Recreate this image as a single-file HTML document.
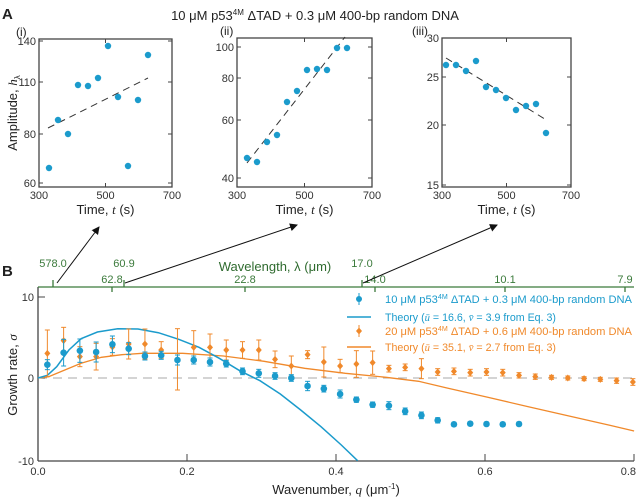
<!DOCTYPE html>
<html><head><meta charset="utf-8"><style>
html,body{margin:0;padding:0;background:#fff;}
svg{display:block;font-family:"Liberation Sans",sans-serif;}
</style></head><body>
<svg id="s" width="636" height="499" viewBox="0 0 636 499" xmlns="http://www.w3.org/2000/svg">
<defs><marker id="ar" markerWidth="8" markerHeight="8" refX="7" refY="4" orient="auto" markerUnits="userSpaceOnUse"><path d="M0,0 L8,4 L0,8 z" fill="#111"/></marker></defs>
<text x="2" y="19" font-size="15" font-weight="bold" fill="#222">A</text>
<text x="315" y="20" font-size="13" text-anchor="middle" fill="#222">10 μM p53<tspan font-size="8" dy="-5">4M</tspan><tspan dy="5"> ΔTAD + 0.3 μM 400-bp random DNA</tspan></text>
<text x="16" y="36" font-size="12" fill="#222">(i)</text>
<text x="220" y="35" font-size="12" fill="#222">(ii)</text>
<text x="412" y="35" font-size="12" fill="#222">(iii)</text>
<text transform="translate(17,113) rotate(-90)" font-size="13" text-anchor="middle" fill="#222">Amplitude, <tspan font-family="Liberation Serif" font-style="italic">h</tspan><tspan font-size="8" dy="3">λ</tspan></text>
<g id="A"></g>
<text x="2" y="276" font-size="15" font-weight="bold" fill="#222">B</text>
<text transform="translate(17,375) rotate(-90)" font-size="13" text-anchor="middle" fill="#222">Growth rate, <tspan font-family="Liberation Serif" font-style="italic">σ</tspan></text>
<text x="275" y="271" font-size="13" text-anchor="middle" fill="#2f6b2f">Wavelength, λ (μm)</text>
<text x="336" y="494" font-size="13" text-anchor="middle" fill="#222">Wavenumber, <tspan font-family="Liberation Serif" font-style="italic">q</tspan> (μm<tspan font-size="8" dy="-5">-1</tspan><tspan dy="5">)</tspan></text>
<g id="B"></g>
<line x1="57" y1="283" x2="99" y2="227" stroke="#111" stroke-width="1" marker-end="url(#ar)"/>
<line x1="125" y1="283" x2="297" y2="225" stroke="#111" stroke-width="1" marker-end="url(#ar)"/>
<line x1="363" y1="283" x2="497" y2="225" stroke="#111" stroke-width="1" marker-end="url(#ar)"/>
</svg>
<script>
const NS="http://www.w3.org/2000/svg";
function el(p,t,a,txt){const e=document.createElementNS(NS,t);for(const k in a)e.setAttribute(k,a[k]);if(txt!=null)e.textContent=txt;p.appendChild(e);return e;}
const A=document.getElementById("A"),B=document.getElementById("B");
const BL="#1b9bcc",OR="#f0892b",GR="#3b7a3b";
const panels=[
 {l:39,r:172,t:39,b:187,yt:[[140,41],[110,82],[80,134],[60,183]],
  pts:[[49,168],[58,120],[68,134],[78,85],[88,86],[98,78],[108,46],[118,97],[128,166],[138,100],[148,55]],dl:[48,128,148,78]},
 {l:237,r:372,t:38,b:187,yt:[[100,47],[80,78],[60,120],[40,178]],
  pts:[[247,158],[257,162],[267,142],[277,135],[287,102],[297,91],[307,70],[317,69],[327,70],[337,48],[347,48]],dl:[247,163,345,37]},
 {l:442,r:571,t:38,b:187,yt:[[30,38],[25,77],[20,125],[15,185]],
  pts:[[446,65],[456,65],[466,71],[476,61],[486,87],[496,90],[506,98],[516,110],[526,106],[536,104],[546,133]],dl:[446,58,548,121]}
];
panels.forEach(p=>{
 el(A,"rect",{x:p.l,y:p.t,width:p.r-p.l,height:p.b-p.t,fill:"none",stroke:"#444","stroke-width":1.3});
 p.yt.forEach(([v,y])=>{el(A,"line",{x1:p.l,y1:y,x2:p.l+4,y2:y,stroke:"#444"});el(A,"line",{x1:p.r,y1:y,x2:p.r-4,y2:y,stroke:"#444"});
  el(A,"text",{x:p.l-3,y:y+4,"font-size":11,"text-anchor":"end",fill:"#333"},v);});
 const w=p.r-p.l;
 [[300,0],[500,.5],[700,1]].forEach(([v,f])=>{const x=p.l+f*w;
  el(A,"line",{x1:x,y1:p.b,x2:x,y2:p.b-4,stroke:"#444"});el(A,"line",{x1:x,y1:p.t,x2:x,y2:p.t+4,stroke:"#444"});
  el(A,"text",{x:x,y:p.b+12,"font-size":11,"text-anchor":"middle",fill:"#333"},v);});
 const tt=el(A,"text",{x:p.l+w/2,y:p.b+27,"font-size":13,"text-anchor":"middle",fill:"#222"},"Time, ");
 el(tt,"tspan",{"font-family":"Liberation Serif","font-style":"italic"},"t");el(tt,"tspan",{}," (s)");
 el(A,"line",{x1:p.dl[0],y1:p.dl[1],x2:p.dl[2],y2:p.dl[3],stroke:"#333","stroke-dasharray":"7,5","stroke-width":1});
 p.pts.forEach(([x,y])=>el(A,"circle",{cx:x,cy:y,r:3.2,fill:BL}));
});
const L=38,R=634,T=287,Bt=461;
const X=zx=>38+(zx-94)*0.4066, Y=zy=>250+zy/3;
el(B,"line",{x1:L,y1:378,x2:R,y2:378,stroke:"#aaa","stroke-dasharray":"9,6","stroke-width":1});
el(B,"line",{x1:L,y1:T,x2:L,y2:Bt,stroke:"#444","stroke-width":1.3});
el(B,"line",{x1:L,y1:Bt,x2:R,y2:Bt,stroke:"#444","stroke-width":1.3});
el(B,"line",{x1:L,y1:T,x2:R,y2:T,stroke:GR,"stroke-width":1.3});
[[10,297],[0,378],[-10,461]].forEach(([v,y])=>{el(B,"line",{x1:L,y1:y,x2:L+7,y2:y,stroke:"#444"});el(B,"text",{x:L-4,y:y+4,"font-size":11,"text-anchor":"end",fill:"#333"},v);});
[["0.0",0],["0.2",.2],["0.4",.4],["0.6",.6],["0.8",.8]].forEach(([t,q])=>{const x=L+q*745;
 el(B,"line",{x1:x,y1:Bt,x2:x,y2:Bt-7,stroke:"#444"});
 el(B,"text",{x:q==.8?636:x,y:Bt+14,"font-size":11,"text-anchor":q==.8?"end":"middle",fill:"#333"},t);});
[["578.0",53,1],["60.9",124,1],["17.0",362,1],["62.8",112,0],["22.8",245,0],["14.0",375,0],["10.1",505,0],["7.9",625,0]].forEach(([t,x,lg])=>{
 if(lg){el(B,"line",{x1:x,y1:T,x2:x,y2:T-7,stroke:GR,"stroke-width":1.3});el(B,"text",{x:x,y:T-20,"font-size":11,"text-anchor":"middle",fill:GR},t);}
 else{el(B,"line",{x1:x,y1:T,x2:x,y2:T+5,stroke:GR,"stroke-width":1.3});el(B,"text",{x:x,y:T-4,"font-size":11,"text-anchor":"middle",fill:GR},t);}
});
const bc=[[94,384],[117,376],[140,350],[170,300],[200,266],[240,246],[290,236],[340,237],[390,248],[440,268],[490,292],[540,325],[590,362],[640,392],[690,432],[740,480],[790,530],[840,585],[880,632]];
const oc=[[94,384],[120,380],[160,360],[200,340],[250,322],[300,314],[350,310],[450,310],[550,318],[650,334],[750,355],[850,370],[950,382],[1030,394],[1100,414],[1200,442],[1300,470],[1400,498],[1500,526],[1560,543]];
const pl=a=>a.map(([x,y])=>X(x).toFixed(1)+","+Y(y).toFixed(1)).join(" ");
el(B,"polyline",{points:pl(oc),fill:"none",stroke:OR,"stroke-width":1.3});
el(B,"polyline",{points:pl(bc),fill:"none",stroke:BL,"stroke-width":1.5});
const bz=[344,308,302,306,283,296,318,316,330,330,336,341,364,370,378,384,408,416,432,449,464,467,484,496,511,523,521,522,523,522];
const be=[15,40,35,30,25,18,12,12,15,12,12,10,10,12,10,10,14,10,12,8,8,12,10,10,8,6,6,6,6,6];
const oz=[310,272,320,320,291,282,282,300,328,292,292,300,300,300,328,348,314,336,348,342,338,356,352,356,366,364,368,366,368,376,380,382,384,386,388,392,396];
const oe=[70,40,30,40,25,45,45,25,92,50,40,30,25,30,25,30,12,45,20,40,35,10,10,30,10,10,10,10,10,8,8,6,6,6,6,8,10];
function pts(z,e,c,off,shape){z.forEach((zy,i)=>{const x=X(117+40*i)+off,y=Y(zy),h=e[i]/3;
 el(B,"line",{x1:x,y1:y-h,x2:x,y2:y+h,stroke:c,"stroke-width":1});
 el(B,"line",{x1:x-2.5,y1:y-h,x2:x+2.5,y2:y-h,stroke:c,"stroke-width":1});
 el(B,"line",{x1:x-2.5,y1:y+h,x2:x+2.5,y2:y+h,stroke:c,"stroke-width":1});
 if(shape)el(B,"circle",{cx:x,cy:y,r:3.3,fill:c});else el(B,"path",{d:`M${x},${y-3.5}L${x+3},${y}L${x},${y+3.5}L${x-3},${y}z`,fill:c});});}
pts(oz,oe,OR,0,0);
pts(bz,be,BL,0,1);
const lg=(y,c,kind,html,len)=>{
 if(kind==="m"){el(B,"line",{x1:359,y1:y-6,x2:359,y2:y+6,stroke:c});el(B,"circle",{cx:359,cy:y,r:3,fill:c});}
 else if(kind==="d"){el(B,"line",{x1:359,y1:y-6,x2:359,y2:y+6,stroke:c});el(B,"path",{d:`M359,${y-3.5}L362,${y}L359,${y+3.5}L356,${y}z`,fill:c});}
 else el(B,"line",{x1:347,y1:y,x2:371,y2:y,stroke:c,"stroke-width":1.4});
 const t=el(B,"text",{x:385,y:y+4,"font-size":11,fill:c,textLength:len,lengthAdjust:"spacingAndGlyphs"});t.innerHTML=html;};
lg(299,BL,"m",'10 μM p53<tspan font-size="7" dy="-4">4M</tspan><tspan dy="4"> ΔTAD + 0.3 μM 400-bp random DNA</tspan>',247);
lg(317,BL,"l",'Theory (<tspan font-family="Liberation Serif" font-style="italic">ū</tspan> = 16.6, <tspan font-family="Liberation Serif" font-style="italic">v̄</tspan> = 3.9 from Eq. 3)',171);
lg(331,OR,"d",'20 μM p53<tspan font-size="7" dy="-4">4M</tspan><tspan dy="4"> ΔTAD + 0.6 μM 400-bp random DNA</tspan>',247);
lg(347,OR,"l",'Theory (<tspan font-family="Liberation Serif" font-style="italic">ū</tspan> = 35.1, <tspan font-family="Liberation Serif" font-style="italic">v̄</tspan> = 2.7 from Eq. 3)',171);
</script>
</body></html>
